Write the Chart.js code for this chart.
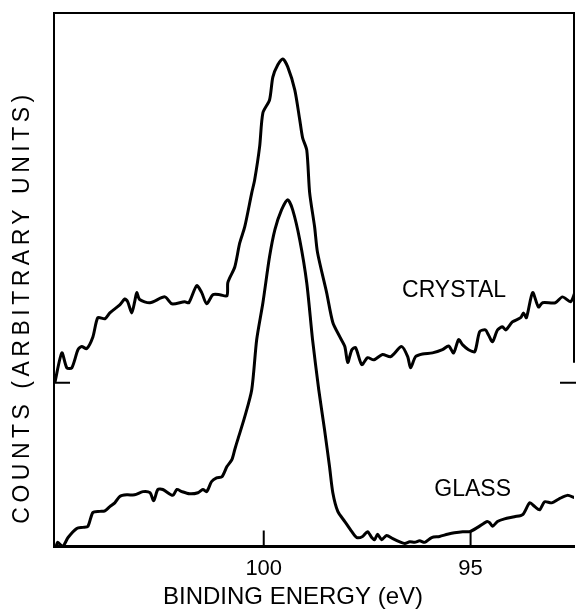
<!DOCTYPE html>
<html>
<head>
<meta charset="utf-8">
<script src="https://cdn.jsdelivr.net/npm/chart.js@4.4.1/dist/chart.umd.min.js"></script>
<style>
  html, body { margin: 0; padding: 0; background: #fff; }
  #wrap { position: relative; width: 576px; height: 611px; }
</style>
</head>
<body>
<div id="wrap"><canvas id="xps"></canvas></div>
<script>
// binding energy (eV) and counts (arbitrary, 0-100 over the frame height)
const crystalEnergy = [105.05, 104.88, 104.76, 104.64, 104.49, 104.40, 104.28, 104.13, 104.01, 103.84,
  103.72, 103.48, 103.36, 103.29, 103.19, 103.12, 103.07, 103.00, 102.75, 102.39,
  102.22, 101.91, 101.81, 101.62, 101.50, 101.38, 101.23, 101.06, 100.89, 100.87,
  100.82, 100.70, 100.58, 100.46, 100.29, 100.22, 100.10, 100.02, 99.86, 99.78,
  99.66, 99.54, 99.42, 99.25, 99.13, 99.06, 98.96, 98.89, 98.77, 98.70,
  98.48, 98.33, 98.16, 98.04, 97.97, 97.87, 97.78, 97.63, 97.49, 97.34,
  97.13, 96.93, 96.67, 96.52, 96.45, 96.33, 96.16, 95.92, 95.68, 95.53,
  95.41, 95.29, 95.19, 95.05, 94.90, 94.78, 94.64, 94.57, 94.47, 94.35,
  94.23, 94.15, 93.99, 93.79, 93.72, 93.65, 93.50, 93.36, 93.26, 92.95,
  92.78, 92.58, 92.46];
const crystalCounts = [30.7, 36.3, 33.5, 33.5, 36.9, 37.5, 37.1, 39.3, 42.9, 42.7,
  43.8, 45.3, 46.4, 45.9, 43.8, 45.9, 47.6, 46.3, 45.7, 46.8,
  45.5, 45.9, 45.7, 48.9, 47.6, 45.5, 47.2, 47.2, 47.0, 49.4,
  50.4, 52.4, 56.9, 59.9, 66.3, 68.7, 74.9, 81.3, 83.7, 88.0,
  90.3, 91.4, 89.9, 85.6, 80.0, 76.6, 74.3, 66.3, 59.9, 55.1,
  47.6, 42.0, 39.3, 37.5, 34.5, 36.9, 37.3, 34.1, 35.4, 35.0,
  36.0, 35.6, 37.5, 35.6, 33.5, 35.6, 36.1, 36.3, 36.9, 37.6,
  36.3, 38.8, 37.8, 36.9, 36.5, 40.3, 40.6, 39.7, 38.4, 40.6,
  41.2, 40.6, 42.1, 42.9, 43.8, 42.9, 47.6, 44.9, 45.7, 45.7,
  46.8, 45.9, 48.1];

const glassEnergy = [105.02, 104.98, 104.86, 104.73, 104.52, 104.37, 104.25, 104.13, 103.96, 103.84,
  103.72, 103.60, 103.48, 103.31, 103.12, 102.92, 102.75, 102.66, 102.56, 102.44,
  102.20, 102.10, 101.98, 101.79, 101.59, 101.47, 101.38, 101.26, 101.14, 101.01,
  100.89, 100.77, 100.70, 100.63, 100.46, 100.29, 100.17, 100.02, 99.86, 99.73,
  99.57, 99.42, 99.30, 99.13, 98.96, 98.82, 98.67, 98.53, 98.41, 98.33,
  98.21, 98.04, 97.87, 97.75, 97.61, 97.49, 97.39, 97.32, 97.25, 97.15,
  97.03, 96.88, 96.71, 96.59, 96.47, 96.35, 96.23, 96.11, 95.94, 95.75,
  95.56, 95.39, 95.19, 95.02, 94.83, 94.61, 94.54, 94.47, 94.35, 94.18,
  93.94, 93.74, 93.57, 93.45, 93.33, 93.21, 93.04, 92.85, 92.66, 92.49];
const glassCounts = [0, 0.8, 0, 1.7, 3.4, 3.6, 3.8, 6.4, 6.6, 6.7,
  7.5, 8.2, 9.4, 9.7, 9.7, 10.3, 10.1, 8.6, 10.7, 10.7,
  9.6, 10.7, 10.3, 9.9, 10.1, 10.7, 10.3, 12.2, 12.9, 13.1,
  15.0, 16.3, 18.2, 20.0, 24.3, 29.4, 38.8, 45.7, 54.3, 59.4,
  63.1, 65.0, 63.1, 57.5, 49.4, 38.8, 29.4, 21.9, 15.0, 10.1,
  6.6, 4.7, 2.8, 1.7, 1.9, 2.8, 1.7, 1.3, 2.3, 1.3,
  2.1, 1.5, 0.9, 0.6, 0.9, 0.8, 1.1, 0.8, 1.7, 1.9,
  2.3, 2.6, 2.8, 2.8, 3.6, 4.7, 4.5, 3.8, 4.7, 5.2,
  5.6, 6.0, 8.2, 7.5, 6.9, 8.4, 8.2, 9.0, 9.6, 9.2];

const energyTicks = [100, 95];
const countTicks = [30.7];

const FONT = '"Liberation Sans", Arial, sans-serif';

function toPoints(xs, ys) {
  return xs.map((x, i) => ({ x: x, y: ys[i] }));
}

// inward tick marks, frame top/right, series labels and axis titles
const annotate = {
  id: 'annotate',
  afterDraw(chart) {
    const ctx = chart.ctx;
    const a = chart.chartArea;
    const xs = chart.scales.x;
    const ys = chart.scales.y;
    const tickLen = 16;

    ctx.save();
    ctx.strokeStyle = '#000';
    ctx.lineWidth = 2;
    ctx.beginPath();
    energyTicks.forEach(v => {
      const px = xs.getPixelForValue(v);
      ctx.moveTo(px, a.bottom);
      ctx.lineTo(px, a.bottom - tickLen);
    });
    countTicks.forEach(v => {
      const py = ys.getPixelForValue(v);
      ctx.moveTo(a.left, py);
      ctx.lineTo(a.left + tickLen, py);
      ctx.moveTo(a.right + 2, py);
      ctx.lineTo(a.right - tickLen + 2, py);
    });
    ctx.moveTo(a.left, a.top);
    ctx.lineTo(a.right, a.top);
    ctx.lineTo(a.right, ys.getPixelForValue(countTicks[0]) - 20);
    ctx.stroke();

    ctx.fillStyle = '#000';
    ctx.textAlign = 'center';
    ctx.textBaseline = 'alphabetic';
    ctx.font = '23px ' + FONT;
    ctx.fillText('CRYSTAL', xs.getPixelForValue(95.4), ys.getPixelForValue(46.8));
    ctx.fillText('GLASS', xs.getPixelForValue(94.95), ys.getPixelForValue(9.4));

    ctx.textBaseline = 'middle';
    ctx.font = '24px ' + FONT;
    ctx.fillText('BINDING ENERGY (eV)', 293, 597);

    ctx.translate(23, 307);
    ctx.rotate(-Math.PI / 2);
    ctx.font = '23px ' + FONT;
    ctx.letterSpacing = '4.5px';
    ctx.fillText('COUNTS (ARBITRARY UNITS)', 0, 0);
    ctx.restore();
  }
};

const ctx = document.getElementById('xps');

new Chart(ctx, {
  type: 'line',
  data: {
    datasets: [
      {
        label: 'CRYSTAL',
        data: toPoints(crystalEnergy, crystalCounts),
        borderColor: '#000',
        borderWidth: 3,
        pointRadius: 0,
        tension: 0.25,
        fill: false,
      },
      {
        label: 'GLASS',
        data: toPoints(glassEnergy, glassCounts),
        borderColor: '#000',
        borderWidth: 3,
        pointRadius: 0,
        tension: 0.25,
        fill: false,
      },
    ],
  },
  options: {
    responsive: true,
    maintainAspectRatio: false,
    animation: false,
    layout: {
      autoPadding: false,
      padding: { left: 54, top: 13, right: 2, bottom: 20 },
    },
    scales: {
      x: {
        type: 'linear',
        reverse: true,
        min: 92.5,
        max: 105.07,
        afterBuildTicks: (scale) => {
          scale.ticks = energyTicks.map(v => ({ value: v }));
        },
        ticks: {
          color: '#000',
          padding: 9,
          maxRotation: 0,
          font: { family: FONT, size: 22 },
        },
        grid: { display: false, drawTicks: false },
        border: { display: true, color: '#000', width: 3 },
      },
      y: {
        type: 'linear',
        min: 0,
        max: 100,
        ticks: { display: false },
        grid: { display: false, drawTicks: false },
        border: { display: true, color: '#000', width: 2 },
      },
    },
    plugins: {
      legend: { display: false },
      tooltip: { enabled: false },
    },
  },
  plugins: [annotate],
});
</script>
</body>
</html>
